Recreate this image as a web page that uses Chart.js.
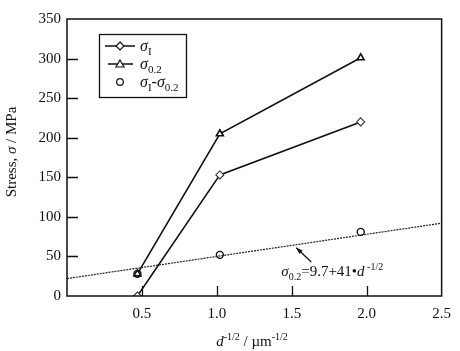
<!DOCTYPE html>
<html>
<head>
<meta charset="utf-8">
<script src="https://cdn.jsdelivr.net/npm/chart.js@4"></script>
<style>
  html, body { margin: 0; padding: 0; background: #fff; }
  #wrap { width: 460px; height: 351px; }
</style>
</head>
<body>
<div id="wrap"><canvas id="stressChart"></canvas></div>
<script>
// values
const dInv = [0.47, 1.02, 1.96];          // d^-1/2, um^-1/2
const sigmaI = [0, 153, 220];             // MPa
const sigma02 = [28, 205, 301];           // MPa
const sigmaDiff = [28, 52, 81];           // MPa
const fitX = [0, 2.5];
const fitY = [22, 92];
const xTicks = [0.5, 1.0, 1.5, 2.0, 2.5];
const yTicks = [0, 50, 100, 150, 200, 250, 300, 350];

// annotation anchor (data units)
const noteText = { x: 1.43, y: 25 };
const arrowFrom = { x: 1.63, y: 43 };
const arrowTo = { x: 1.53, y: 61 };

const FONT = '"Liberation Serif", "Times New Roman", serif';

const pts = (xs, ys) => xs.map((x, i) => ({ x: x, y: ys[i] }));

// draws text with italic / sub / sup parts
function drawRich(ctx, parts, x, y, align, size) {
  const small = Math.round(size * 0.68);
  const fontOf = p => (p.it ? 'italic ' : '') + (p.sub || p.sup ? small : size) + 'px ' + FONT;
  let w = 0;
  parts.forEach(p => { ctx.font = fontOf(p); w += ctx.measureText(p.t).width; });
  let cx = align === 'center' ? x - w / 2 : (align === 'right' ? x - w : x);
  ctx.textAlign = 'left';
  ctx.textBaseline = 'alphabetic';
  parts.forEach(p => {
    ctx.font = fontOf(p);
    let dy = p.sub ? size * 0.28 : (p.sup ? -size * 0.42 : 0);
    ctx.fillText(p.t, cx, y + dy);
    cx += ctx.measureText(p.t).width;
  });
}

function drawMarker(ctx, style, x, y) {
  ctx.save();
  ctx.fillStyle = '#fff';
  ctx.strokeStyle = '#111';
  ctx.lineWidth = 1.2;
  ctx.beginPath();
  if (style === 'diamond') {
    ctx.moveTo(x, y - 4); ctx.lineTo(x + 4, y); ctx.lineTo(x, y + 4); ctx.lineTo(x - 4, y); ctx.closePath();
  } else if (style === 'triangle') {
    ctx.moveTo(x, y - 4); ctx.lineTo(x + 4, y + 3); ctx.lineTo(x - 4, y + 3); ctx.closePath();
  } else {
    ctx.arc(x, y, 3.3, 0, Math.PI * 2);
  }
  ctx.fill();
  ctx.stroke();
  ctx.restore();
}

const decor = {
  id: 'decor',
  afterDraw(chart) {
    const ctx = chart.ctx;
    const a = chart.chartArea;
    const xs = chart.scales.x, ys = chart.scales.y;
    ctx.save();
    ctx.strokeStyle = '#111';
    ctx.fillStyle = '#111';

    // frame
    ctx.lineWidth = 1.5;
    ctx.strokeRect(a.left, a.top, a.right - a.left, a.bottom - a.top);

    // inward ticks
    ctx.lineWidth = 1.3;
    ctx.beginPath();
    yTicks.slice(1, -1).forEach(v => {
      const py = Math.round(ys.getPixelForValue(v)) + 0.5;
      ctx.moveTo(a.left, py); ctx.lineTo(a.left + 11, py);
    });
    xTicks.slice(0, -1).forEach(v => {
      const px = Math.round(xs.getPixelForValue(v)) + 0.5;
      ctx.moveTo(px, a.bottom); ctx.lineTo(px, a.bottom - 10);
    });
    ctx.stroke();

    // axis titles
    drawRich(ctx, [{ t: 'd', it: true }, { t: '-1/2', sup: true }, { t: ' / \u00b5m' }, { t: '-1/2', sup: true }],
      252, 346, 'center', 15);
    ctx.save();
    ctx.translate(16, 152);
    ctx.rotate(-Math.PI / 2);
    drawRich(ctx, [{ t: 'Stress, ' }, { t: '\u03c3', it: true }, { t: ' / MPa' }], 0, 0, 'center', 15);
    ctx.restore();

    // legend box
    ctx.fillStyle = '#fff';
    ctx.fillRect(99, 34, 87, 63);
    ctx.lineWidth = 1.3;
    ctx.strokeRect(99.5, 34.5, 87, 63);
    ctx.fillStyle = '#111';
    const rows = [
      { y: 46, x0: 105, x1: 135, m: 'diamond', label: [{ t: '\u03c3', it: true }, { t: 'I', sub: true }] },
      { y: 64, x0: 108, x1: 133, m: 'triangle', label: [{ t: '\u03c3', it: true }, { t: '0.2', sub: true }] },
      { y: 82, x0: null, m: 'circle', label: [{ t: '\u03c3', it: true }, { t: 'I', sub: true }, { t: '-' }, { t: '\u03c3', it: true }, { t: '0.2', sub: true }] }
    ];
    rows.forEach(r => {
      if (r.x0 !== null) {
        ctx.lineWidth = 1.5;
        ctx.beginPath(); ctx.moveTo(r.x0, r.y); ctx.lineTo(r.x1, r.y); ctx.stroke();
      }
      drawMarker(ctx, r.m, 120, r.y);
      ctx.fillStyle = '#111';
      drawRich(ctx, r.label, 140, r.y + 5, 'left', 16);
    });

    // fit equation and arrow
    const tx = xs.getPixelForValue(noteText.x), ty = ys.getPixelForValue(noteText.y);
    drawRich(ctx, [{ t: '\u03c3', it: true }, { t: '0.2', sub: true }, { t: '=9.7+41\u2022' }, { t: 'd', it: true }, { t: ' -1/2', sup: true }],
      tx, ty, 'left', 15);
    const x1 = xs.getPixelForValue(arrowFrom.x), y1 = ys.getPixelForValue(arrowFrom.y);
    const x2 = xs.getPixelForValue(arrowTo.x), y2 = ys.getPixelForValue(arrowTo.y);
    ctx.lineWidth = 1.2;
    ctx.beginPath(); ctx.moveTo(x1, y1); ctx.lineTo(x2, y2); ctx.stroke();
    const ang = Math.atan2(y2 - y1, x2 - x1);
    ctx.beginPath();
    ctx.moveTo(x2, y2);
    ctx.lineTo(x2 - 7 * Math.cos(ang - 0.35), y2 - 7 * Math.sin(ang - 0.35));
    ctx.lineTo(x2 - 7 * Math.cos(ang + 0.35), y2 - 7 * Math.sin(ang + 0.35));
    ctx.closePath();
    ctx.fill();
    ctx.restore();
  }
};

const ctx = document.getElementById('stressChart').getContext('2d');
new Chart(ctx, {
  type: 'scatter',
  data: {
    datasets: [
      {
        label: 'fit',
        data: pts(fitX, fitY),
        showLine: true,
        borderColor: '#222',
        borderWidth: 1.2,
        borderDash: [2, 1],
        pointRadius: 0
      },
      {
        label: 'sigmaI',
        data: pts(dInv, sigmaI),
        showLine: true,
        borderColor: '#111',
        borderWidth: 1.6,
        pointStyle: 'rectRot',
        pointRadius: 4,
        pointBorderWidth: 1.1,
        pointBorderColor: '#333',
        pointBackgroundColor: '#fff'
      },
      {
        label: 'sigma02',
        data: pts(dInv, sigma02),
        showLine: true,
        borderColor: '#111',
        borderWidth: 1.6,
        pointStyle: 'triangle',
        pointRadius: 4,
        pointBorderWidth: 1.6,
        pointBorderColor: '#111',
        pointBackgroundColor: '#fff'
      },
      {
        label: 'diff',
        data: pts(dInv, sigmaDiff),
        showLine: false,
        pointStyle: 'circle',
        pointRadius: 3.5,
        pointBorderWidth: 1.4,
        pointBorderColor: '#111',
        pointBackgroundColor: '#fff'
      }
    ]
  },
  options: {
    responsive: true,
    maintainAspectRatio: false,
    animation: false,
    layout: { padding: { top: 19, right: 17, left: 0, bottom: 0 } },
    plugins: {
      legend: { display: false },
      tooltip: { enabled: false }
    },
    scales: {
      x: {
        type: 'linear',
        min: 0,
        max: 2.5,
        grid: { display: false, drawTicks: false },
        border: { display: false },
        afterBuildTicks: s => { s.ticks = [0].concat(xTicks).map(v => ({ value: v })); },
        afterFit: s => { s.height = 55; },
        ticks: {
          padding: 9,
          color: '#111',
          font: { family: FONT, size: 15 },
          callback: v => (v === 0 ? '' : v.toFixed(1))
        }
      },
      y: {
        min: 0,
        max: 350,
        grid: { display: false, drawTicks: false },
        border: { display: false },
        afterBuildTicks: s => { s.ticks = yTicks.map(v => ({ value: v })); },
        afterFit: s => { s.width = 67; },
        ticks: {
          padding: 6,
          color: '#111',
          font: { family: FONT, size: 15 }
        }
      }
    }
  },
  plugins: [decor]
});
</script>
</body>
</html>
